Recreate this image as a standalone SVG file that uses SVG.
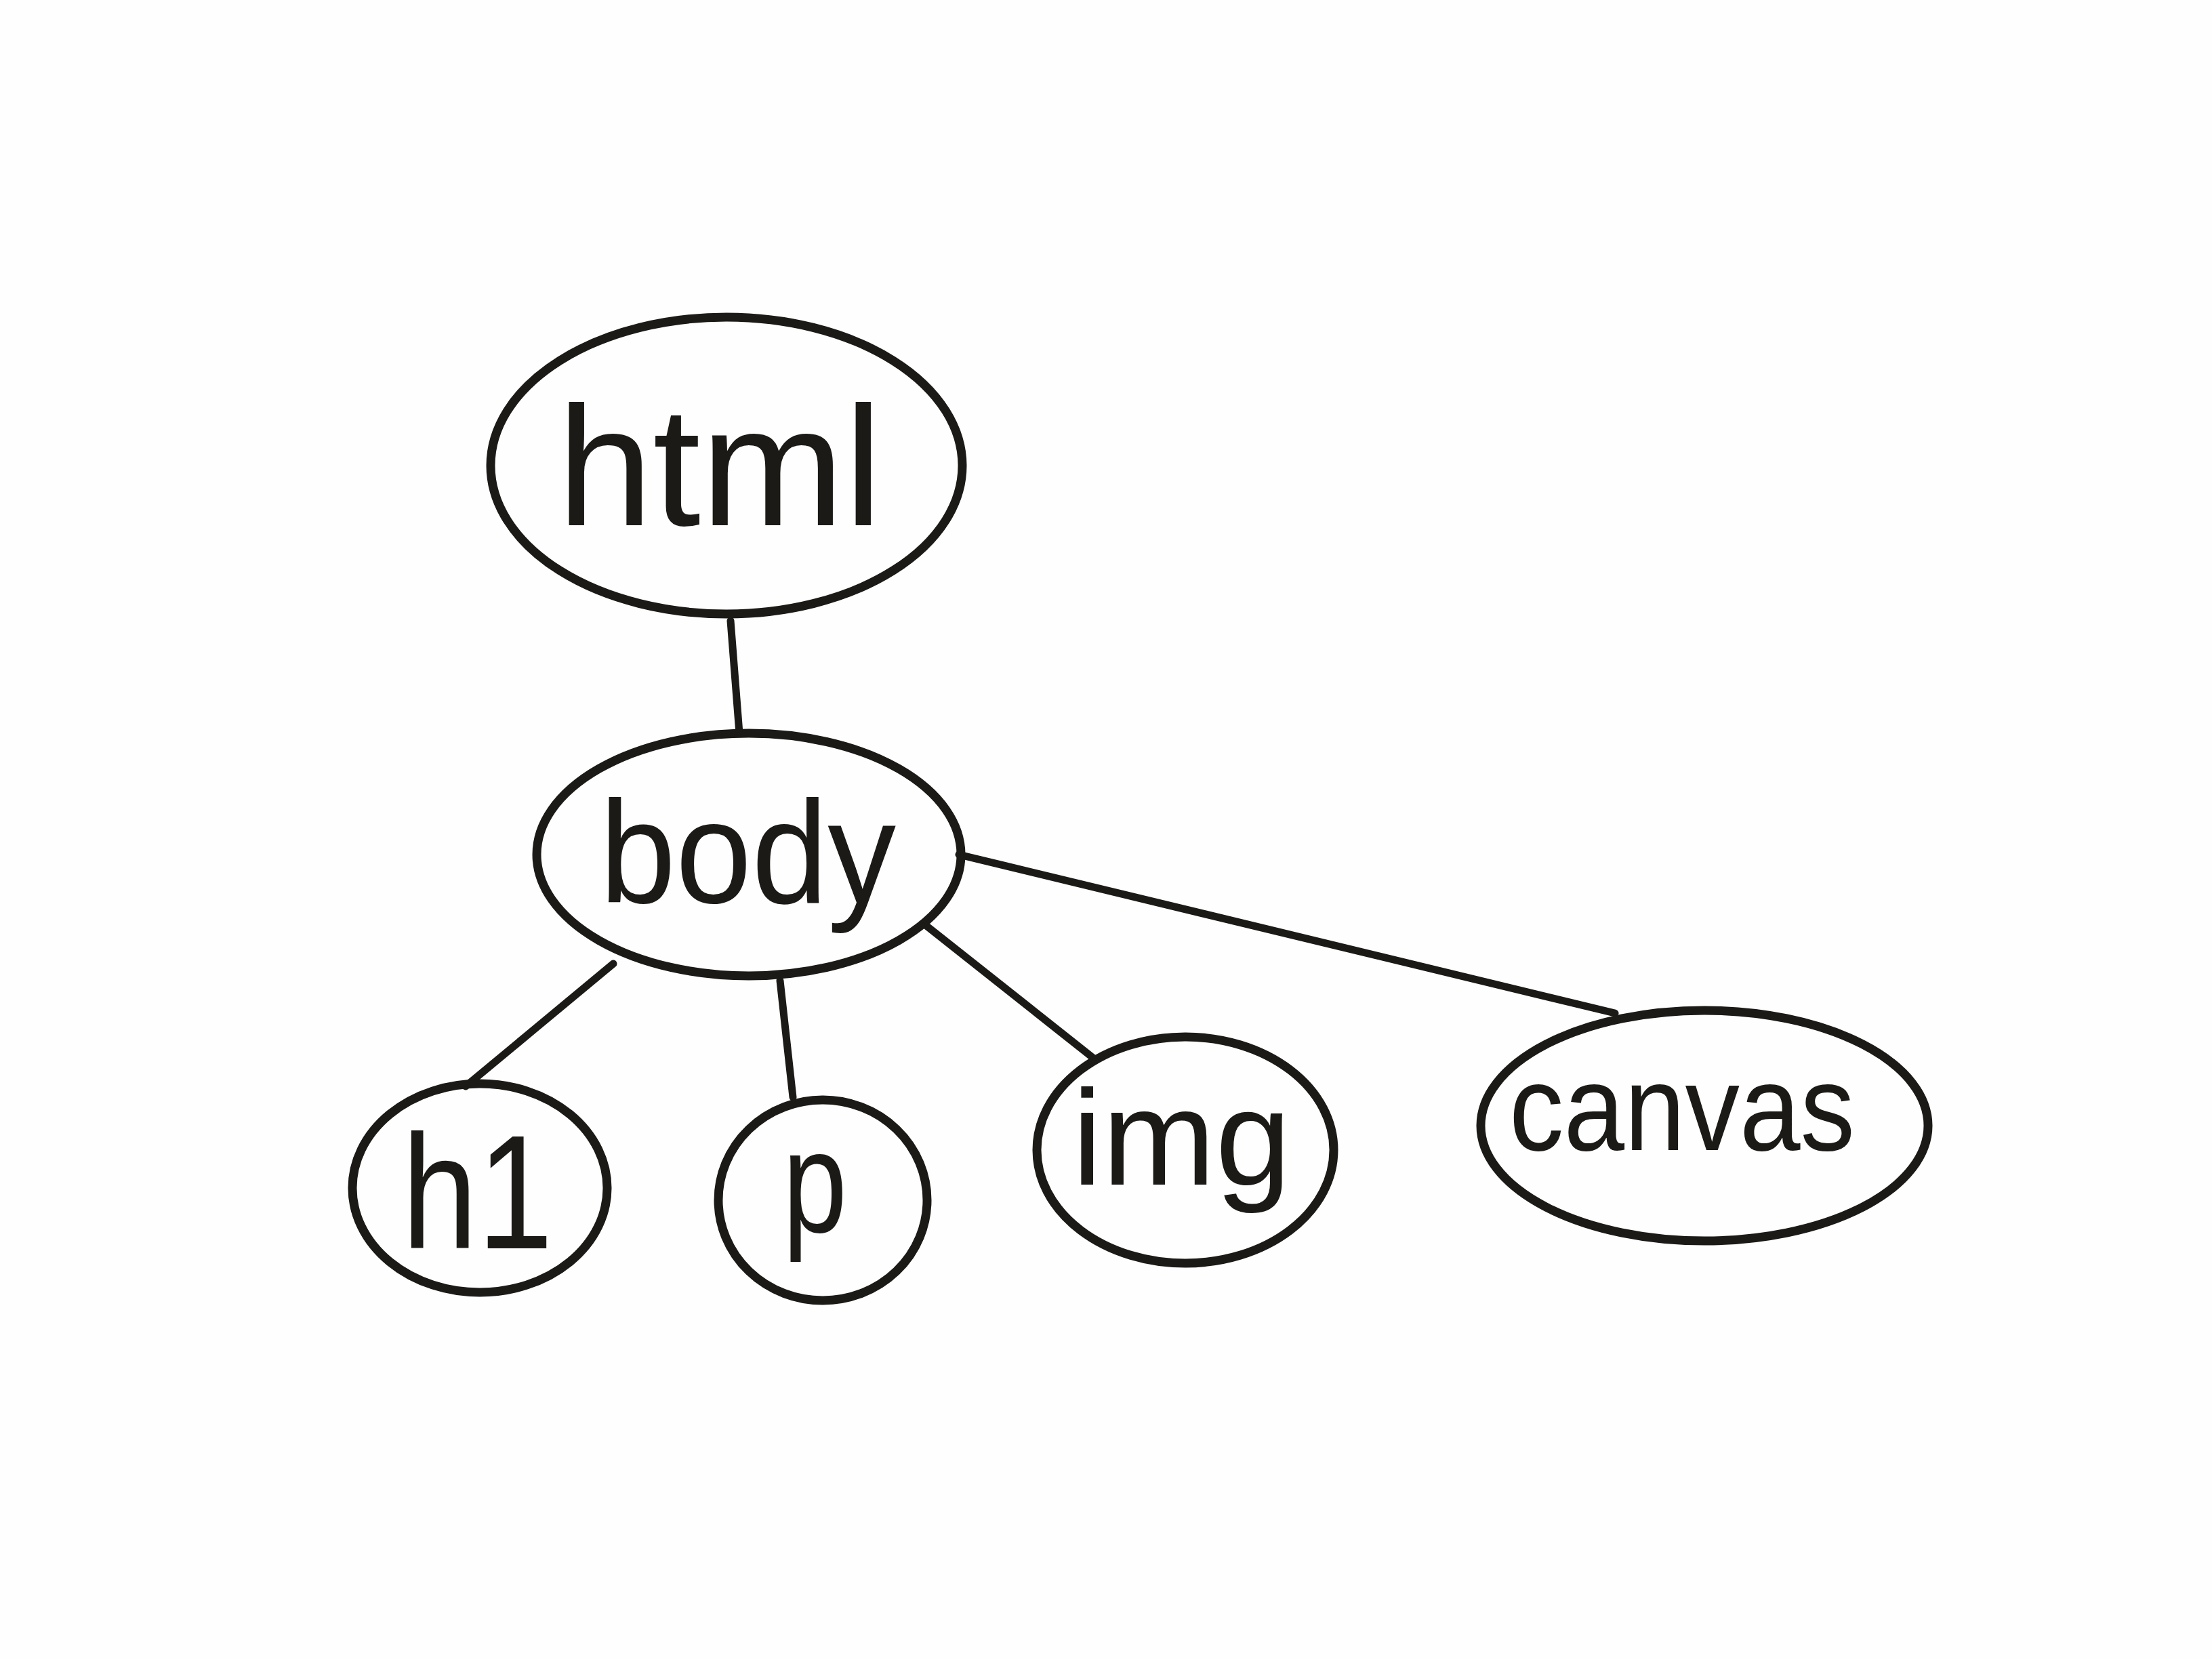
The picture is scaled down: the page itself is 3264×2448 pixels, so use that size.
<svg xmlns="http://www.w3.org/2000/svg" width="3264" height="2448" viewBox="0 0 3264 2448">
<style>
.node{fill:none;stroke:#1c1a17;stroke-width:13}
.lbl{font-family:"Liberation Sans","DejaVu Sans",sans-serif;fill:#1c1a17;font-weight:normal}
.edge{fill:none;stroke:#1c1a17;stroke-width:11;stroke-linecap:round}
</style>
<rect width="3264" height="2448" fill="#fefefe"/>
<g id="connectors">
<path class="edge" d="M1078 916 L1091 1082"/>
<path class="edge" d="M905 1422 L687 1603"/>
<path class="edge" d="M1151 1447 L1170 1619"/>
<path class="edge" d="M1363 1363 L1613 1561"/>
<path class="edge" d="M1415 1261 L2383 1495"/>
</g>
<g id="node-html">
<ellipse class="node" cx="1072" cy="687" rx="348" ry="219"/>
<text class="lbl" x="822" y="775" font-size="250" textLength="480" lengthAdjust="spacingAndGlyphs">html</text>
</g>
<g id="node-body">
<ellipse class="node" cx="1105" cy="1261" rx="313" ry="179"/>
<text class="lbl" x="885" y="1332" font-size="215" textLength="437" lengthAdjust="spacingAndGlyphs">body</text>
</g>
<g id="node-h1">
<ellipse class="node" cx="708" cy="1753" rx="188" ry="154"/>
<text class="lbl" x="593" y="1842" font-size="240" textLength="223" lengthAdjust="spacingAndGlyphs">h1</text>
</g>
<g id="node-p">
<ellipse class="node" cx="1214" cy="1771" rx="154" ry="148"/>
<text class="lbl" x="1155" y="1818" font-size="214" textLength="95" lengthAdjust="spacingAndGlyphs">p</text>
</g>
<g id="node-img">
<ellipse class="node" cx="1749" cy="1697" rx="219" ry="167"/>
<text class="lbl" x="1582" y="1748" font-size="200" textLength="323" lengthAdjust="spacingAndGlyphs">img</text>
</g>
<g id="node-canvas">
<ellipse class="node" cx="2515" cy="1661" rx="330" ry="170"/>
<text class="lbl" x="2227" y="1697" font-size="180" textLength="510" lengthAdjust="spacingAndGlyphs">canvas</text>
</g>
</svg>
